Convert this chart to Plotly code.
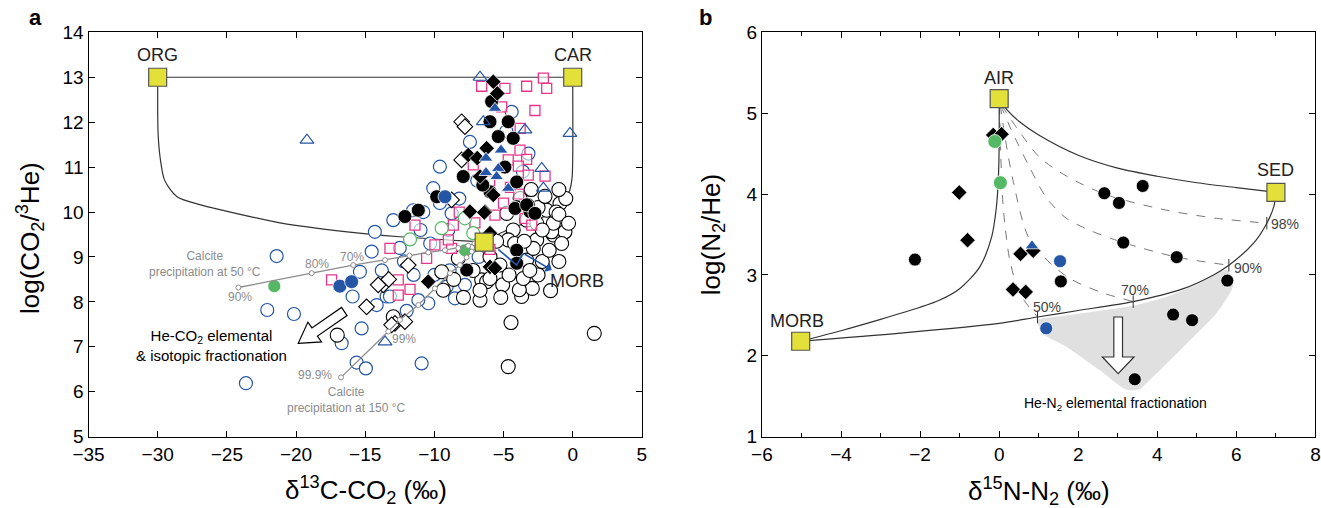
import plotly.graph_objects as go

# ---------------- Panel a data ----------------
a_open_black_x = [1.56,-4.66,-4.46,-3.69,-2.92,-3.86,-5.06,-6.7,-6.58,-9.47,-1.4,-0.56,-2.6,-1.52,-4.3,-3.33,-2.6,-1.4,-1.88,-0.92,-4.77,-5.98,-6.22,-3.33,-2.85,-3.57,-17.02,-12.97,-5.26,-4.66,-8.27,-9.36,-6.7,-5.98,-2.2,-1.7,-0.8,-2.5,-2.0,-3.0,-1.2,-5.5,-4.2,-3.8,-7.2,-8.6,-7.9,-0.5,-1.0,-1.6,-1.0,-0.3,-2.2,-3.5,-4.6,-5.2,-2.5,-1.0,-3.1]
a_open_black_y = [7.3,6.56,7.54,8.12,8.3,8.27,8.38,8.04,8.49,8.67,9.49,9.56,9.38,9.56,9.6,9.82,9.75,9.75,10.04,10.19,9.97,9.0,8.45,8.93,9.19,8.52,7.26,7.67,8.82,9.38,8.97,8.26,8.26,8.52,8.9,9.15,9.3,10.1,10.35,10.5,10.0,9.35,9.3,10.3,8.7,8.5,8.1,10.3,10.5,8.25,9.95,9.75,9.6,9.35,8.6,8.1,8.6,8.9,8.7]

a_open_blue_x = [-21.4,-22.08,-20.15,-23.62,-15.91,-15.26,-16.7,-15.62,-14.95,-14.3,-14.53,-15.38,-12.97,-10.92,-9.11,-8.51,-7.79,-10.44,-11.16,-8.75,-13.45,-9.6,-7.43,-4.41,-10.08,-11.53,-14.17,-13.21,-9.0,-10.3,-8.2,-6.9,-3.6,-3.2,-4.8,-6.8,-8.9,-12.2,-11.0,-10.8,-9.6,-12.5,-11.5,-10.0,-13.8,-12.0]
a_open_blue_y = [9.02,7.82,7.73,6.19,8.12,7.41,7.08,6.65,6.52,9.56,9.12,8.67,9.82,6.63,8.34,8.08,8.38,7.97,8.04,9.97,8.12,11.01,11.56,12.23,10.53,10.04,7.93,8.12,9.6,9.3,10.3,10.7,10.9,11.3,11.8,9.0,8.7,8.9,9.6,10.0,10.2,9.2,8.6,8.6,8.7,7.8]

a_fill_blue_x = [-9.23,-16.83,-15.98]
a_fill_blue_y = [10.34,8.35,8.45]

a_fill_green_x = [-7.79,-21.57]
a_fill_green_y = [9.15,8.35]

a_open_green_x = [-9.47,-7.79,-11.76,-7.19]
a_open_green_y = [9.64,9.86,9.39,9.53]

a_pink_sq_x = [-2.12,-3.33,-1.88,-6.58,-4.9,-5.13,-2.73,-3.81,-3.33,-4.66,-3.93,-3.21,-2.0,-11.4,-13.21,-10.56,-9.96,-8.75,-8.99,-8.63,-7.07,-5.62,-12.61,-11.76,-12.61,-3.45,-2.96,-5.98,-17.43,-7.19,-3.8,-4.5,-5.0,-3.9,-8.2,-6.0]
a_pink_sq_y = [12.98,12.8,12.75,12.8,12.75,12.34,12.26,11.38,11.17,11.16,11.02,10.82,10.8,9.71,9.19,8.97,9.27,9.19,9.38,9.71,9.76,9.93,8.49,8.28,8.15,9.86,9.71,9.17,8.49,11.05,11.86,10.55,10.2,10.4,10.0,10.7]

a_open_dia_x = [-8.03,-7.79,-11.89,-13.7,-12.85,-12.13,-14.06,-14.9,-13.09,-8.75,-8.03,-13.3]
a_open_dia_y = [12.01,11.9,8.82,8.38,7.52,7.56,8.38,7.89,7.49,10.27,11.16,8.5]

a_fill_dia_x = [-5.74,-5.45,-7.55,-6.22,-5.74,-6.34,-7.43,-6.39,-5.98,-5.98,-5.62,-10.44,-6.7,-6.9]
a_fill_dia_y = [12.9,12.64,11.27,11.42,10.38,10.01,10.01,9.99,9.53,8.78,8.75,8.45,10.79,11.2]

a_fill_black_x = [-5.86,-5.98,-4.66,-5.38,-4.3,-7.91,-4.05,-9.83,-11.16,-4.05,-3.21,-3.09,-12.13,-4.05,-4.05,-7.66,-5.98,-4.17,-3.33,-2.73,-6.5,-4.9]
a_fill_black_y = [12.46,12.01,12.01,11.68,11.64,10.79,10.67,10.34,10.04,10.12,10.16,10.01,9.9,9.15,8.86,8.71,10.45,10.08,10.16,9.97,10.6,11.0]

a_open_tri_x = [-19.21,-6.7,-3.45,-0.2,-2.24,-2.12,-6.46,-13.56]
a_open_tri_y = [11.6,13.0,11.83,11.75,10.97,10.53,12.01,7.11]

a_fill_tri_x = [-5.62,-6.27,-5.18,-6.27,-5.38,-5.5,-4.66]
a_fill_tri_y = [12.31,11.2,11.38,10.88,10.97,10.79,10.53]

a_end_names = ["ORG", "CAR", "MORB"]
a_end_x = [-30, 0, -6.4]
a_end_y = [13.0, 13.0, 9.33]

a_org_morb_x = [-30,-30,-29.97,-29.83,-29.5,-28.6,-26.9,-26.0,-21.16,-16.3,-12.5,-6.9,-6.4]
a_org_morb_y = [13.0,12.3,11.75,11.23,10.71,10.34,10.16,10.09,9.76,9.56,9.45,9.34,9.33]
a_car_morb_x = [0,0,-0.05,-0.25,-0.7,-1.3,-2.36,-3.81,-5.0,-5.74,-6.4]
a_car_morb_y = [13.0,11.2,10.75,10.45,10.2,10.02,9.86,9.71,9.56,9.45,9.33]

a_calc50_x = [-6.4,-7.1,-7.55,-8.27,-9.23,-10.44,-11.8,-13.57,-15.86,-18.87,-24.17]
a_calc50_y = [9.33,9.30,9.25,9.2,9.15,9.1,9.03,8.93,8.82,8.64,8.32]
a_calc150_x = [-6.58,-6.94,-7.3,-7.67,-8.15,-8.87,-9.96,-11.16,-12.49,-13.33,-16.75]
a_calc150_y = [9.33,9.23,9.12,8.99,8.82,8.64,8.30,7.93,7.60,7.34,6.32]

a_morb_arrow_x = [-5.38,-4.05,-3.57]
a_morb_arrow_y = [9.17,8.82,9.08]

# ---------------- Panel b data ----------------
b_black_x = [2.66,3.03,3.63,3.14,4.49,1.56,5.77,4.40,4.88,3.43,-2.13]
b_black_y = [4.01,3.89,4.10,3.40,3.22,2.92,2.93,2.51,2.44,1.71,3.19]
b_blue_x = [1.54,1.19]
b_blue_y = [3.17,2.34]
b_tri_x = [0.83]
b_tri_y = [3.36]
b_dia_x = [-0.15,0.06,-1.01,-0.80,0.54,0.86,0.35,0.67]
b_dia_y = [4.73,4.74,4.02,3.43,3.26,3.30,2.82,2.79]
b_green_x = [-0.11,0.03]
b_green_y = [4.65,4.14]

b_end_names = ["AIR", "SED", "MORB"]
b_end_x = [0.0, 7.0, -5.02]
b_end_y = [5.18, 4.02, 2.18]

b_air_morb_x = [0,0,-0.02,-0.07,-0.19,-0.49,-1.0,-1.5,-2.0,-3.0,-4.0,-5.02]
b_air_morb_y = [5.18,4.6,4.2,3.84,3.47,3.10,2.83,2.69,2.60,2.45,2.31,2.18]
b_air_sed_x = [0,0.2,0.5,1.0,2.0,3.0,4.0,5.0,6.0,7.0]
b_air_sed_y = [5.18,5.04,4.9,4.73,4.48,4.32,4.22,4.14,4.08,4.02]
b_morb_sed_x = [-5.02,-2.5,0,0.97,2.0,3.39,4.66,5.42,5.81,6.43,6.77,6.95,7.0]
b_morb_sed_y = [2.18,2.28,2.40,2.48,2.56,2.67,2.83,3.0,3.12,3.39,3.64,3.85,4.02]

b_mix50_x = [0.01,0.04,0.08,0.15,0.27,0.52,0.97]
b_mix50_y = [5.1,4.5,4.0,3.6,3.18,2.77,2.48]
b_mix70_x = [0.03,0.15,0.35,0.78,1.71,2.55,3.39]
b_mix70_y = [5.1,4.7,4.17,3.43,2.98,2.79,2.67]
b_mix90_x = [0.04,0.3,0.75,1.2,1.7,2.3,3.14,4.49,5.81]
b_mix90_y = [5.1,4.8,4.35,3.95,3.7,3.55,3.40,3.22,3.12]
b_mix98_x = [0.06,0.5,1.03,1.71,2.72,4.24,5.5,6.77]
b_mix98_y = [5.1,4.78,4.45,4.22,3.99,3.80,3.70,3.64]

b_pct_labels = ["50%", "70%", "90%", "98%"]
b_pct_x = [0.97, 3.39, 5.81, 6.77]
b_pct_y = [2.48, 2.67, 3.12, 3.64]

b_shade_x = [0.97,1.71,3.38,4.24,5.08,5.76,5.92,5.50,4.66,3.89,3.56,3.22,2.55,1.71,1.11,0.99]
b_shade_y = [2.44,2.50,2.62,2.73,2.90,3.06,2.87,2.53,2.11,1.74,1.59,1.58,1.82,2.11,2.27,2.38]

BLUE = "#2556a6"
PINK = "#e8358c"
GREEN = "#55b865"
YELLOW = "#e3e03a"
GRAY = "#8c8c8c"
FONT = "Liberation Sans, Arial, sans-serif"

fig = go.Figure()

def sc(x, y, xa, ya, **kw):
    fig.add_trace(go.Scatter(x=x, y=y, xaxis=xa, yaxis=ya, hoverinfo="skip", **kw))

# ---- panel a lines ----
sc([a_end_x[0], a_end_x[1]], [a_end_y[0], a_end_y[1]], "x", "y", mode="lines", line=dict(color="#333", width=1.2))
sc(a_org_morb_x, a_org_morb_y, "x", "y", mode="lines", line=dict(color="#333", width=1.2, shape="spline", smoothing=0.8))
sc(a_car_morb_x, a_car_morb_y, "x", "y", mode="lines", line=dict(color="#333", width=1.2, shape="spline", smoothing=0.8))

# ---- panel a points ----
sc(a_open_blue_x, a_open_blue_y, "x", "y", mode="markers", marker=dict(symbol="circle", size=13, color="white", line=dict(color=BLUE, width=1.2)))
sc(a_open_black_x, a_open_black_y, "x", "y", mode="markers", marker=dict(symbol="circle", size=14, color="white", line=dict(color="black", width=1.1)))
sc(a_pink_sq_x, a_pink_sq_y, "x", "y", mode="markers", marker=dict(symbol="square", size=10, color="rgba(255,255,255,0.6)", line=dict(color=PINK, width=1.3)))
sc(a_open_green_x, a_open_green_y, "x", "y", mode="markers", marker=dict(symbol="circle", size=13, color="white", line=dict(color=GREEN, width=1.2)))
sc(a_open_dia_x, a_open_dia_y, "x", "y", mode="markers", marker=dict(symbol="diamond", size=12, color="white", line=dict(color="black", width=1.1)))
sc(a_fill_black_x, a_fill_black_y, "x", "y", mode="markers", marker=dict(symbol="circle", size=14, color="black", line=dict(color="white", width=0.8)))
sc(a_fill_dia_x, a_fill_dia_y, "x", "y", mode="markers", marker=dict(symbol="diamond", size=12, color="black", line=dict(color="white", width=0.8)))
sc(a_open_tri_x, a_open_tri_y, "x", "y", mode="markers", marker=dict(symbol="triangle-up", size=12, color="rgba(255,255,255,0)", line=dict(color=BLUE, width=1.2)))
sc(a_fill_tri_x, a_fill_tri_y, "x", "y", mode="markers", marker=dict(symbol="triangle-up", size=12, color=BLUE, line=dict(color="white", width=0.8)))
sc(a_fill_blue_x, a_fill_blue_y, "x", "y", mode="markers", marker=dict(symbol="circle", size=14, color=BLUE, line=dict(color="white", width=0.8)))
sc(a_fill_green_x, a_fill_green_y, "x", "y", mode="markers", marker=dict(symbol="circle", size=13, color=GREEN, line=dict(color="white", width=0.8)))

# calcite precipitation lines
sc(a_calc50_x, a_calc50_y, "x", "y", mode="lines+markers", line=dict(color=GRAY, width=1.3),
   marker=dict(symbol="circle", size=5, color="white", line=dict(color=GRAY, width=1)))
sc(a_calc150_x, a_calc150_y, "x", "y", mode="lines+markers", line=dict(color=GRAY, width=1.3),
   marker=dict(symbol="circle", size=5, color="white", line=dict(color=GRAY, width=1)))
# MORB trend arrow
sc(a_morb_arrow_x, a_morb_arrow_y, "x", "y", mode="lines", line=dict(color=BLUE, width=1.6))

# endmembers
sc(a_end_x, a_end_y, "x", "y", mode="markers", marker=dict(symbol="square", size=18, color=YELLOW, line=dict(color="#555", width=1.2)))

# ---- panel b ----
sc(b_shade_x + [b_shade_x[0]], b_shade_y + [b_shade_y[0]], "x2", "y2", mode="lines", fill="toself",
   fillcolor="#e0e0e0", line=dict(width=0, color="#e0e0e0", shape="spline", smoothing=0.6))
for mx, my in [(b_mix50_x, b_mix50_y), (b_mix70_x, b_mix70_y), (b_mix90_x, b_mix90_y), (b_mix98_x, b_mix98_y)]:
    sc(mx, my, "x2", "y2", mode="lines", line=dict(color="#777", width=1, dash="dash", shape="spline", smoothing=0.8))
sc(b_air_morb_x, b_air_morb_y, "x2", "y2", mode="lines", line=dict(color="#333", width=1.2, shape="spline", smoothing=0.8))
sc(b_air_sed_x, b_air_sed_y, "x2", "y2", mode="lines", line=dict(color="#333", width=1.2, shape="spline", smoothing=0.8))
sc(b_morb_sed_x, b_morb_sed_y, "x2", "y2", mode="lines", line=dict(color="#333", width=1.2, shape="spline", smoothing=0.8))
sc(b_pct_x, b_pct_y, "x2", "y2", mode="markers", marker=dict(symbol="line-ns", size=9, line=dict(color="#333", width=1)))

sc(b_dia_x, b_dia_y, "x2", "y2", mode="markers", marker=dict(symbol="diamond", size=12, color="black", line=dict(color="white", width=0.8)))
sc(b_black_x, b_black_y, "x2", "y2", mode="markers", marker=dict(symbol="circle", size=13, color="black", line=dict(color="white", width=0.8)))
sc(b_blue_x, b_blue_y, "x2", "y2", mode="markers", marker=dict(symbol="circle", size=13, color=BLUE, line=dict(color="white", width=0.8)))
sc(b_tri_x, b_tri_y, "x2", "y2", mode="markers", marker=dict(symbol="triangle-up", size=12, color=BLUE, line=dict(color="white", width=0.8)))
sc(b_green_x, b_green_y, "x2", "y2", mode="markers", marker=dict(symbol="circle", size=14, color=GREEN, line=dict(color="white", width=0.8)))
sc(b_end_x, b_end_y, "x2", "y2", mode="markers", marker=dict(symbol="square", size=18, color=YELLOW, line=dict(color="#555", width=1.2)))

# ---------------- annotations ----------------
ann = []
def txt(x, y, t, xr="x", yr="y", size=17, color="#222", **kw):
    d = dict(x=x, y=y, xref=xr, yref=yr, text=t, showarrow=False, xanchor="center", yanchor="middle",
             font=dict(family=FONT, size=size, color=color))
    d.update(kw)
    ann.append(d)

txt(-30, 13.5, "ORG", size=18)
txt(0, 13.5, "CAR", size=18)
txt(0.3, 8.46, "MORB", size=18)
txt(-26.6, 8.84, "Calcite<br>precipitation at 50 °C", size=12, color=GRAY)
txt(-16.37, 5.82, "Calcite<br>precipitation at 150 °C", size=12, color=GRAY)
txt(-24.06, 8.10, "90%", size=12, color=GRAY)
txt(-18.5, 8.84, "80%", size=12, color=GRAY)
txt(-15.94, 8.99, "70%", size=12, color=GRAY)
txt(-18.62, 6.37, "99.9%", size=12, color=GRAY)
txt(-12.19, 7.17, "99%", size=12, color=GRAY)
txt(-26.1, 7.04, "He-CO<sub>2</sub> elemental<br>& isotopic fractionation", size=15, color="black")

ann.append(dict(x=-1.52, y=8.71, ax=-3.57, ay=9.08, xref="x", yref="y", axref="x", ayref="y",
                showarrow=True, arrowhead=1, arrowsize=1.2, arrowwidth=1.6, arrowcolor=BLUE, text=""))

txt(0, 5.43, "AIR", xr="x2", yr="y2", size=18)
txt(7.0, 4.30, "SED", xr="x2", yr="y2", size=18)
txt(-5.11, 2.43, "MORB", xr="x2", yr="y2", size=18)
txt(1.2, 2.60, "50%", xr="x2", yr="y2", size=14, color="#444")
txt(3.43, 2.81, "70%", xr="x2", yr="y2", size=14, color="#444")
txt(6.3, 3.08, "90%", xr="x2", yr="y2", size=14, color="#444")
txt(7.23, 3.63, "98%", xr="x2", yr="y2", size=14, color="#444")
txt(2.93, 1.41, "He-N<sub>2</sub> elemental fractionation", xr="x2", yr="y2", size=14, color="black")

# panel letters and axis titles
txt(0.0265, 0.965, "<b>a</b>", xr="paper", yr="paper", size=22, color="black")
txt(0.5337, 0.965, "<b>b</b>", xr="paper", yr="paper", size=22, color="black")
txt(0.0227, 0.5315, "log(CO<sub>2</sub>/<sup>3</sup>He)", xr="paper", yr="paper", size=26, color="black", textangle=-90)
txt(0.277, 0.035, "δ<sup>13</sup>C-CO<sub>2</sub> (‰)", xr="paper", yr="paper", size=26, color="black")
txt(0.539, 0.537, "log(N<sub>2</sub>/He)", xr="paper", yr="paper", size=26, color="black", textangle=-90)
txt(0.7865, 0.033, "δ<sup>15</sup>N-N<sub>2</sub> (‰)", xr="paper", yr="paper", size=26, color="black")

# shapes: open arrows
shapes = [
    dict(type="path", xref="x", yref="y",
         path="M -19.84 7.078 L -18.16 7.109 L -18.45 7.238 L -16.31 7.695 L -16.71 7.877 L -18.85 7.421 L -19.14 7.550 Z",
         fillcolor="white", line=dict(color="black", width=1.2)),
    dict(type="path", xref="x2", yref="y2",
         path="M 2.90 2.48 L 3.12 2.48 L 3.12 1.985 L 3.41 1.985 L 3.01 1.78 L 2.61 1.985 L 2.90 1.985 Z",
         fillcolor="white", line=dict(color="#333", width=1.2)),
]

axis_common = dict(showgrid=False, zeroline=False, showline=True, linecolor="black", linewidth=1.2,
                   mirror="ticks", ticks="inside", ticklen=6, tickcolor="black", tickwidth=1.2,
                   automargin=False,
                   tickfont=dict(family=FONT, size=19, color="black"))

fig.update_layout(
    width=1321, height=508, margin=dict(l=0, r=0, t=0, b=0, autoexpand=False),
    paper_bgcolor="white", plot_bgcolor="white", showlegend=False,
    font=dict(family=FONT),
    xaxis=dict(domain=[0.0670, 0.4859], range=[-35, 5], dtick=5, tick0=0, anchor="y", **axis_common),
    yaxis=dict(domain=[0.1404, 0.9364], range=[5, 14], dtick=1, anchor="x", **axis_common),
    xaxis2=dict(domain=[0.5768, 0.9958], range=[-6, 8], dtick=2, tick0=0, anchor="y2",
                minor=dict(dtick=1, ticks="inside", ticklen=4, tickcolor="black"), **axis_common),
    yaxis2=dict(domain=[0.1404, 0.9364], range=[1, 6], dtick=1, anchor="x2", **axis_common),
    annotations=ann, shapes=shapes,
)

fig.write_html("out.html")
